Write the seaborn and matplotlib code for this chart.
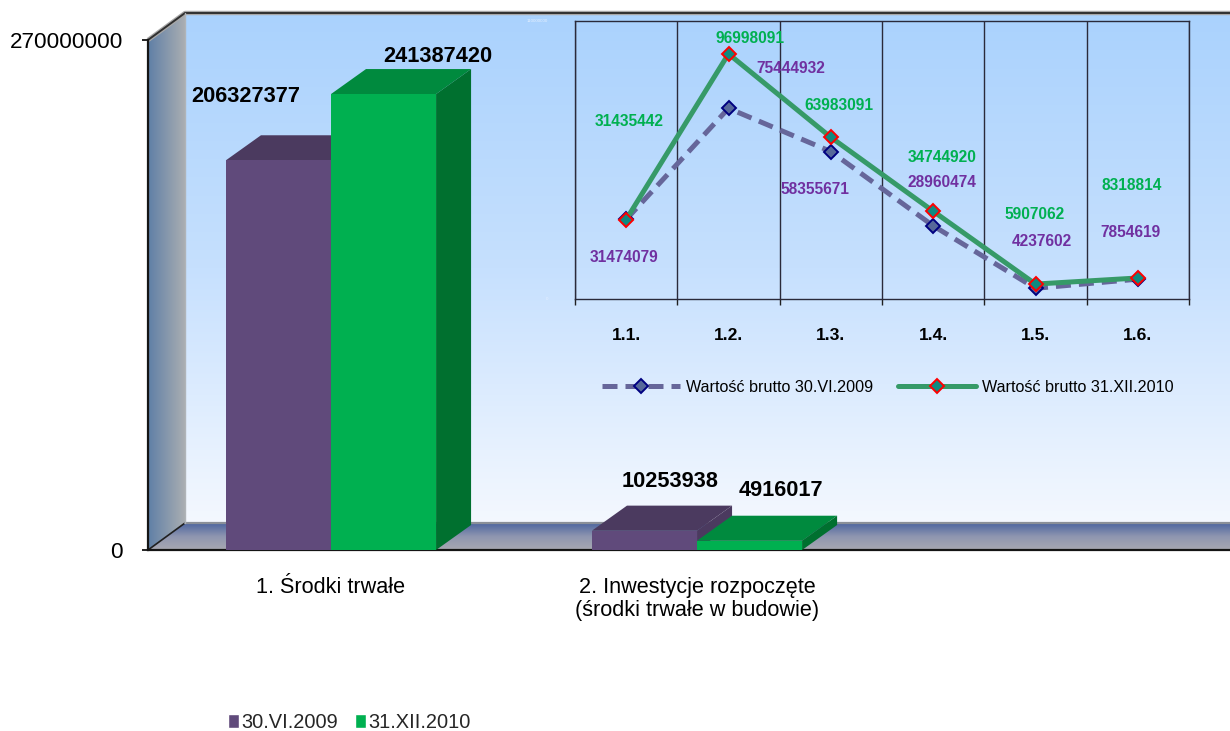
import numpy as np
import pandas as pd
import matplotlib
matplotlib.use("Agg")
import matplotlib.pyplot as plt
from matplotlib.colors import LinearSegmentedColormap
from matplotlib.patches import Polygon, Patch
from matplotlib.transforms import IdentityTransform
import seaborn as sns

# ---------- data ----------
main_categories = ["1. Środki trwałe", "2. Inwestycje rozpoczęte\n(środki trwałe w budowie)"]
main_series = ["30.VI.2009", "31.XII.2010"]
main_2009 = [206327377, 10253938]
main_2010 = [241387420, 4916017]

inset_categories = ["1.1.", "1.2.", "1.3.", "1.4.", "1.5.", "1.6."]
inset_series = ["Wartość brutto 30.VI.2009", "Wartość brutto 31.XII.2010"]
inset_2009 = [31474079, 75444932, 58355671, 28960474, 4237602, 7854619]
inset_2010 = [31435442, 96998091, 63983091, 34744920, 5907062, 8318814]

# ---------- styling ----------
W, H = 1230, 731
PURPLE, PURPLE_TOP, PURPLE_SIDE = "#604a7b", "#4b3a5f", "#4b3a5f"
GREEN, GREEN_TOP, GREEN_SIDE = "#00b050", "#008a3e", "#00702f"
TXT_PURPLE, TXT_GREEN = "#7030a0", "#00b050"
LINE_2009, LINE_2010 = "#66669a", "#369a68"
DX, DY = 35, 25            # 3D depth of the bars, px
label_off_2009 = [(-2, -38), (62, 40), (-16, -38), (9, 43), (6, 47), (-7, 47)]
label_off_2010 = [(3, 98), (22, 15), (8, 32), (9, 54), (-1, 70), (-6, 92)]
bar_label_off = [(-33, 64), (26, 49), (54, 38), (31, 50)]

sns.set_theme(style="white")
plt.rcParams["font.family"] = ["Liberation Sans", "DejaVu Sans"]

fig = plt.figure(figsize=(W / 100, H / 100), dpi=100, facecolor="white")


def px_axes(left, top, right, bottom):
    return fig.add_axes([left / W, 1 - bottom / H, (right - left) / W, (bottom - top) / H])


# ---------- 3D chart box ----------
bg = fig.add_axes([0, 0, 1, 1], zorder=0)
bg.set_xlim(0, W)
bg.set_ylim(H, 0)
bg.axis("off")


def gradient(colors, extent, vertical=True, clip=None):
    cmap = LinearSegmentedColormap.from_list("g", colors)
    g = np.linspace(0, 1, 256)
    g = g[:, None] if vertical else g[None, :]
    im = bg.imshow(g, cmap=cmap, extent=extent, aspect="auto", zorder=1)
    if clip is not None:
        poly = Polygon(clip, transform=bg.transData, fc="none", ec="none")
        bg.add_patch(poly)
        im.set_clip_path(poly)


gradient(["#aad2fd", "#c6e0fe", "#f4f8ff"], (185, W, 523, 13))
left_wall = [(148, 40), (185, 13), (185, 523), (148, 550)]
gradient(["#5f7fa6", "#aaaeb2"], (148, 185, 550, 13), vertical=False, clip=left_wall)
floor = [(148, 550), (185, 523), (W, 523), (W, 550)]
gradient(["#4d659f", "#8f96b0", "#a8a8b2"], (148, W, 550, 523), clip=floor)
bg.plot([148, 185, W], [40, 13, 13], color="#a8a8a8", lw=3.2, zorder=2, solid_capstyle="butt")
bg.plot([148, 185, W], [40, 13, 13], color="#303030", lw=1.4, zorder=3, solid_capstyle="butt")
bg.plot([148, 185], [550, 523], color="#202020", lw=1.2, zorder=3)
bg.plot([185, W], [523, 523], color="#8a8f98", lw=1.6, zorder=3)
bg.plot([185, 185], [13, 523], color="#b0b4b8", lw=1.0, zorder=3)
bg.set_xlim(0, W)
bg.set_ylim(H, 0)

# ---------- main bars ----------
ax = px_axes(148, 40, W, 550)
ax.set_zorder(1)
ax.patch.set_alpha(0)
df = pd.DataFrame({
    "cat": main_categories * 2,
    "value": main_2009 + main_2010,
    "series": [main_series[0]] * 2 + [main_series[1]] * 2,
})
sns.barplot(data=df, x="cat", y="value", hue="series", hue_order=main_series,
            palette=[PURPLE, GREEN], width=0.574, gap=0, saturation=1,
            legend=False, ax=ax, zorder=3, linewidth=0, edgecolor="none")
ax.set_xlim(-0.5, 2.456)
ax.set_ylim(0, 270000000)
ax.set_yticks([0, 270000000], ["0", "270000000"])
ax.set_xlabel("")
ax.set_ylabel("")
ax.set_xticks([0, 1], main_categories)
ax.tick_params(axis="x", length=0, pad=19.5, labelsize=15.6, colors="black")
ax.tick_params(axis="y", left=True, length=4, width=1.2, pad=14, labelsize=16.2, colors="black")
for lab in ax.get_xticklabels():
    lab.set_linespacing(1.12)
for s in ["top", "right"]:
    ax.spines[s].set_visible(False)
for s in ["left", "bottom"]:
    ax.spines[s].set_color("#151515")
    ax.spines[s].set_linewidth(1.6)

fig.canvas.draw()
bars = [p for p in ax.patches if p.get_width() > 0]
for i, p in enumerate(bars):
    top_c, side_c = (PURPLE_TOP, PURPLE_SIDE) if i < 2 else (GREEN_TOP, GREEN_SIDE)
    z = 3 if i < 2 else 4
    x0, y0 = ax.transData.transform((p.get_x(), 0))
    x1, y1 = ax.transData.transform((p.get_x() + p.get_width(), p.get_height()))
    top_face = [(x0, y1), (x0 + DX, y1 + DY), (x1 + DX, y1 + DY), (x1, y1)]
    side_face = [(x1, y0), (x1 + DX, y0 + DY), (x1 + DX, y1 + DY), (x1, y1)]
    for pts, c in ((top_face, top_c), (side_face, side_c)):
        ax.add_patch(Polygon(pts, closed=True, fc=c, ec="none", zorder=z,
                             transform=IdentityTransform(), clip_on=False))
    p.set_zorder(z + 0.5)
    ax.annotate(f"{int(p.get_height())}", xy=(x0 + (x1 - x0) / 2, y1), xycoords="figure pixels",
                xytext=bar_label_off[i], textcoords="offset pixels", ha="center", va="center",
                fontsize=15.7, fontweight="bold", color="black", zorder=6)

ax.legend(handles=[Patch(fc=PURPLE, label=main_series[0]), Patch(fc=GREEN, label=main_series[1])],
          loc="center left", bbox_to_anchor=(228 / W, 1 - 722.5 / H), bbox_transform=fig.transFigure,
          ncol=2, frameon=False, fontsize=14.4, handlelength=0.55, handleheight=0.7,
          handletextpad=0.12, columnspacing=0.85, borderpad=0, borderaxespad=0)

# ---------- inset line chart ----------
ins = px_axes(575, 21, 1189, 299)
ins.set_zorder(3)
ins.patch.set_alpha(0)
sns.lineplot(x=inset_categories, y=inset_2009, ax=ins, color=LINE_2009, lw=3.6, sort=False,
             linestyle=(0, (3.0, 1.6)), marker="D", ms=7.5, mfc="#56689a", mec="#000080", mew=1.4,
             label=inset_series[0], errorbar=None, zorder=3)
sns.lineplot(x=inset_categories, y=inset_2010, ax=ins, color=LINE_2010, lw=3.6, sort=False,
             marker="D", ms=7.5, mfc="#0f8a80", mec="#ff0000", mew=1.4,
             label=inset_series[1], errorbar=None, zorder=4)
ins.set_xlim(-0.5, 5.5)
ins.set_ylim(0, 110000000)
ins.set_yticks([0, 110000000], ["0", "110000000"])
ins.tick_params(axis="y", left=False, pad=13.5, labelsize=3.2, colors="#e6f0ff")
ins.set_xlabel("")
ins.set_ylabel("")
ins.set_xticks(np.arange(-0.5, 6, 1), minor=True)
ins.grid(axis="x", which="minor", color="#2a2a3a", lw=1.0)
ins.grid(axis="x", which="major", visible=False)
ins.tick_params(axis="x", which="minor", length=4, width=1, color="#202020", bottom=True)
ins.tick_params(axis="x", which="major", length=0, pad=21, labelsize=12.6, colors="black")
for lab in ins.get_xticklabels():
    lab.set_fontweight("bold")
for s in ins.spines.values():
    s.set_color("#2a2a3a")
    s.set_linewidth(1.0)

for i, (a, b) in enumerate(zip(inset_2009, inset_2010)):
    ins.annotate(str(a), xy=(i, a), xytext=label_off_2009[i], textcoords="offset pixels",
                 ha="center", va="center", fontsize=11.2, fontweight="bold", color=TXT_PURPLE, zorder=5)
    ins.annotate(str(b), xy=(i, b), xytext=label_off_2010[i], textcoords="offset pixels",
                 ha="center", va="center", fontsize=11.2, fontweight="bold", color=TXT_GREEN, zorder=5)

leg = ins.legend(loc="center left", bbox_to_anchor=(602 / W, 1 - 387 / H), bbox_transform=fig.transFigure,
                 ncol=2, frameon=False, fontsize=11.6, handlelength=4.85, handletextpad=0.37,
                 columnspacing=1.55, borderpad=0, borderaxespad=0)
for t in leg.get_texts():
    t.set_color("black")

fig.savefig("out.png", dpi=100)
